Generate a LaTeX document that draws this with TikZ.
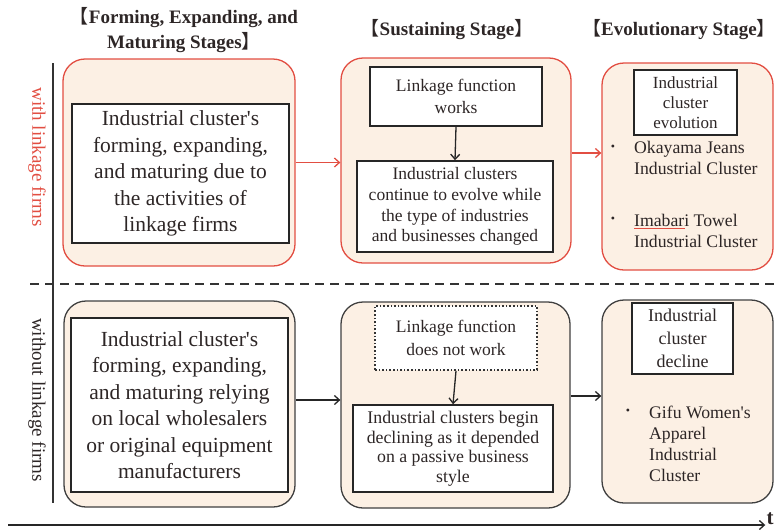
\documentclass[tikz,border=0pt]{standalone}
\usepackage{fontspec}
\setmainfont{Liberation Serif}
\newfontfamily\cjk{Noto Sans CJK SC}
\usetikzlibrary{arrows.meta}
\definecolor{redline}{RGB}{226,78,66}
\definecolor{peach}{RGB}{252,240,228}
\definecolor{txt}{RGB}{45,38,38}
\newcommand{\lb}{{\cjk\mdseries 【}}
\newcommand{\rb}{{\cjk\mdseries 】}}
\newcommand{\ap}{\textquotesingle}
\begin{document}
\begin{tikzpicture}[x=1pt,y=-1pt,
  outerred/.style={draw=redline, line width=1.3pt, fill=peach, rounded corners=22pt, inner sep=0pt},
  outerblk/.style={draw=black!75, line width=1.3pt, fill=peach, rounded corners=22pt, inner sep=0pt},
  innerbox/.style={draw=black!85, line width=1.6pt, fill=white, align=center, text=txt, inner sep=0pt},
  bigtext/.style={font=\fontsize{21.5}{26.5}\selectfont},
  midtext/.style={font=\fontsize{17.5}{22.5}\selectfont},
  smalltext/.style={font=\fontsize{17.5}{20.7}\selectfont},
  listtext/.style={font=\fontsize{17.7}{21}\selectfont, text=txt, align=left, inner sep=0pt, anchor=west},
  bulletnode/.style={font=\fontsize{12}{12}\selectfont, text=txt, inner sep=0pt},
  heading/.style={font=\bfseries\fontsize{19}{25}\selectfont, text=txt, align=center, inner sep=0pt},
  sidelabel/.style={rotate=-90, font=\fontsize{19}{19}\selectfont, inner sep=0pt},
  arr/.style={-{Straight Barb[length=5pt,width=9pt]}, line width=1.3pt},
]
\useasboundingbox (0,0) rectangle (775,531);

% headings
\node[heading] (h1) at (184,30) {\lb Forming, Expanding, and\\Maturing Stages\rb};
\node[heading] (h2) at (447,30) {\lb Sustaining Stage\rb};
\node[heading] (h3) at (679,30) {\lb Evolutionary Stage\rb};

% side labels and axes
\node[sidelabel, text=redline] (lw) at (37,157) {with linkage firms};
\node[sidelabel, text=txt] (lwo) at (37,400) {without linkage firms};
\coordinate (vtop) at (53,63);
\coordinate (vbot) at (53,503);
\draw[line width=1.5pt, black!80] (vtop) -- (vbot);
\coordinate (dl) at (30,284);
\coordinate (dr) at (775,284);
\draw[line width=1.8pt, black!80, dash pattern=on 9pt off 6pt] (dl) -- (dr);
\coordinate (ts) at (8,525);
\node[font=\bfseries\fontsize{21}{21}\selectfont, text=txt, inner sep=1pt] (t) at (770,519) {t};
\draw[arr, black!85] (ts) -- (t.west |- ts);

% upper row
\node[outerred, minimum width=232pt, minimum height=207pt] (o1) at (179,162.5) {};
\node[innerbox, bigtext, minimum width=217pt, minimum height=139pt] (i1) at (180.5,173.5)
  {Industrial cluster\ap s\\forming, expanding,\\and maturing due to\\the activities of\\linkage firms};

\node[outerred, minimum width=230pt, minimum height=205pt] (o2) at (456,160.5) {};
\node[innerbox, midtext, minimum width=172pt, minimum height=59pt] (i2a) at (456,96.5)
  {Linkage function\\works};
\node[innerbox, smalltext, minimum width=196pt, minimum height=91pt] (i2b) at (455,206.5)
  {Industrial clusters\\continue to evolve while\\the type of industries\\and businesses changed};
\draw[arr, black!85] (i2a.south) -- (i2b.north);

\node[outerred, minimum width=171pt, minimum height=207pt] (o3) at (687.5,166.5) {};
\node[innerbox, font=\fontsize{17}{20}\selectfont, minimum width=103pt, minimum height=65pt] (i3) at (685.5,102.5)
  {Industrial\\cluster\\evolution};
\node[bulletnode] (b1) at (613,148) {\textbullet};
\node[listtext] (l1) at (634,158) {Okayama Jeans\\Industrial Cluster};
\node[bulletnode] (b2) at (613,220) {\textbullet};
\node[listtext] (l2) at (634,230.5) {Imabari Towel\\Industrial Cluster};
\coordinate (ul1) at (634,228);
\coordinate (ul2) at (685,228);
\draw[redline, line width=0.7pt] (ul1) -- (ul2);

\draw[arr, redline] (o1.east) -- (o1.east -| o2.west);
\coordinate (r2) at (571,153);
\draw[arr, redline] (o2.east |- r2) -- (o3.west |- r2);

% lower row
\node[outerblk, minimum width=231pt, minimum height=206pt] (o4) at (179.5,404) {};
\node[innerbox, bigtext, minimum width=217pt, minimum height=174pt] (i4) at (179.5,405)
  {Industrial cluster\ap s\\forming, expanding,\\and maturing relying\\on local wholesalers\\or original equipment\\manufacturers};

\node[outerblk, minimum width=229pt, minimum height=206pt] (o5) at (455.5,405) {};
\node[innerbox, midtext, draw=black!80, dotted, line width=1.8pt, minimum width=162pt, minimum height=64pt] (i5a) at (456,338)
  {Linkage function\\does not work};
\node[innerbox, font=\fontsize{17.8}{19.5}\selectfont, minimum width=200pt, minimum height=87pt] (i5b) at (453,448.5)
  {Industrial clusters begin\\declining as it depended\\on a passive business\\style};
\draw[arr, black!85] (i5a.south) -- (i5b.north);

\node[outerblk, minimum width=171pt, minimum height=203pt] (o6) at (687.5,401.5) {};
\node[innerbox, font=\fontsize{18}{23}\selectfont, minimum width=101pt, minimum height=71pt] (i6) at (682.5,338.5)
  {Industrial\\cluster\\decline};
\node[bulletnode] (b3) at (628,412) {\textbullet};
\node[listtext] (l3) at (649,443.5) {Gifu Women\ap s\\Apparel\\Industrial\\Cluster};

\coordinate (r3) at (295,400);
\draw[arr, black!85] (o4.east |- r3) -- (o5.west |- r3);
\coordinate (r4) at (570,396);
\draw[arr, black!85] (o5.east |- r4) -- (o6.west |- r4);
\end{tikzpicture}
\end{document}
